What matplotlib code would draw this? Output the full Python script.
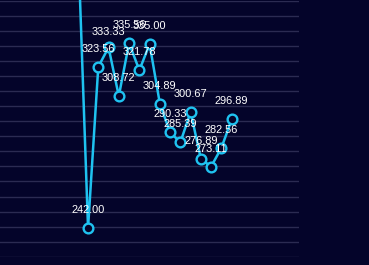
import matplotlib
matplotlib.use("Agg")
import matplotlib.pyplot as plt
import numpy as np

# data (first point lies above the visible range)
positions = list(range(-1, 15))
values = [390.0, 242.00, 323.56, 333.33, 308.72, 335.56, 321.78, 335.00,
          304.89, 290.33, 285.39, 300.67, 276.89, 273.11, 282.56, 296.89]
labels = ["", "242.00", "323.56", "333.33", "308.72", "335.56", "321.78", "335.00",
          "304.89", "290.33", "285.39", "300.67", "276.89", "273.11", "282.56", "296.89"]

BG = "#04042a"
GRID = "#2b2b52"
LINE = "#1fc2f0"

W, H = 369, 265
fig = plt.figure(figsize=(W / 100, H / 100), dpi=100, facecolor=BG)
# axes box in pixel coords: left 0, right 299, top 1, bottom 256.7
left, right, top, bottom = 0, 299, 1, 256.7
ax = fig.add_axes([left / W, 1 - bottom / H, (right - left) / W, (bottom - top) / H])
ax.set_facecolor(BG)

ylo, yhi = 227.5, 356.8
ax.set_ylim(ylo, yhi)
ax.set_xlim(-8.58, 20.56)
ax.set_yticks(np.linspace(ylo, yhi, 18))
ax.yaxis.grid(True, color=GRID, linewidth=1.0)
ax.set_axisbelow(True)
ax.tick_params(left=False, bottom=False, labelleft=False, labelbottom=False)
for s in ax.spines.values():
    s.set_visible(False)

ax.plot(positions, values, color=LINE, linewidth=1.8, marker="o", markersize=7.0,
        markerfacecolor=BG, markeredgecolor=LINE, markeredgewidth=1.7,
        clip_on=False, zorder=3)

label_shift = {"333.33": -2.2}  # points, small nudge seen in the reference
for x, v, t in zip(positions, values, labels):
    if not t:
        continue
    ax.annotate(t, (x, v), xytext=(0, 10.8 + label_shift.get(t, 0)),
                textcoords="offset points",
                ha="center", va="baseline", color="white", fontsize=7.9,
                family="Liberation Sans", zorder=4)

fig.savefig("out.png", dpi=100, facecolor=BG)
